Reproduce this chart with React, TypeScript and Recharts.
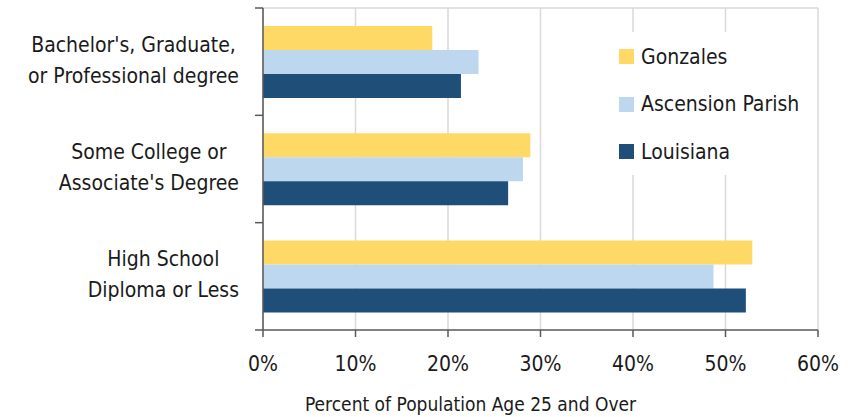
import React from 'react';
import { BarChart, Bar, XAxis, YAxis, CartesianGrid, Legend } from 'recharts';

const categories = [
  "Bachelor's, Graduate,\nor Professional degree",
  "Some College or\nAssociate's Degree",
  'High School\nDiploma or Less',
];
const gonzales = [18.3, 28.9, 52.9];
const ascension = [23.3, 28.1, 48.7];
const louisiana = [21.4, 26.5, 52.2];
const xTicks = [0, 10, 20, 30, 40, 50, 60];

const SERIES = [
  { key: 'gonzales', name: 'Gonzales', color: '#FFD966' },
  { key: 'ascension', name: 'Ascension Parish', color: '#BDD7EE' },
  { key: 'louisiana', name: 'Louisiana', color: '#1F4E79' },
];

const FONT = "'DejaVu Sans Condensed', 'Liberation Sans', sans-serif";
const FONT_SIZE = 21;
const TEXT = '#1a1a1a';
const AXIS = '#595959';
const GRID = '#d9d9d9';

const data = categories.map((c, i) => ({
  category: c,
  gonzales: gonzales[i],
  ascension: ascension[i],
  louisiana: louisiana[i],
}));

// two-line category label (lines centred, block right-aligned) plus tick marks on the band edges
const CategoryTick = (props: any) => {
  const { x, y, payload, index } = props;
  const half = payload.offset || (props.height ? props.height / (2 * categories.length) : 0);
  const lines = String(payload.value).split('\n');
  const isLast = index === categories.length - 1;
  return (
    <g>
      <line x1={x} x2={x + 8} y1={y - half} y2={y - half} stroke={AXIS} strokeWidth={1.5} />
      {isLast && <line x1={x} x2={x + 8} y1={y + half} y2={y + half} stroke={AXIS} strokeWidth={1.5} />}
      <foreignObject x={x - 254} y={y - 41} width={238} height={80}>
        <div
          style={{
            width: 238,
            height: 80,
            display: 'flex',
            justifyContent: 'flex-end',
            alignItems: 'center',
            fontFamily: FONT,
            fontSize: FONT_SIZE,
            lineHeight: '31px',
            color: TEXT,
          }}
        >
          <div style={{ textAlign: 'center', whiteSpace: 'nowrap' }}>
            {lines.map((l, i) => (
              <div key={i}>{l}</div>
            ))}
          </div>
        </div>
      </foreignObject>
    </g>
  );
};

// legend sits on a white box over the grid, in series order
const LegendBox = () => (
  <div style={{ background: '#fff', width: 205, height: 143, paddingTop: 1, boxSizing: 'border-box' }}>
    {SERIES.map((s) => (
      <div
        key={s.key}
        style={{
          display: 'flex',
          alignItems: 'center',
          height: 47.5,
          fontFamily: FONT,
          fontSize: FONT_SIZE,
          color: TEXT,
          whiteSpace: 'nowrap',
        }}
      >
        <span style={{ width: 15, height: 15, background: s.color, marginLeft: 14, marginRight: 7, display: 'inline-block' }} />
        <span>{s.name}</span>
      </div>
    ))}
  </div>
);

export default function App() {
  return (
    <div style={{ position: 'absolute', left: 0, top: 0 }}>
      <style>{'body{margin:0}'}</style>
      <BarChart
        width={857}
        height={417}
        data={data}
        layout="vertical"
        margin={{ top: 8, right: 39, bottom: 5, left: 0 }}
        barCategoryGap="16.7%"
        barGap={0}
      >
        <CartesianGrid
          stroke={GRID}
          strokeWidth={1.5}
          horizontal
          vertical
          horizontalCoordinatesGenerator={({ offset }: any) => [offset.top]}
        />
        <XAxis
          type="number"
          domain={[0, 60]}
          ticks={xTicks}
          tickFormatter={(v: number) => `${v}%`}
          stroke={AXIS}
          strokeWidth={1.5}
          tickSize={7}
          tickMargin={19}
          tick={{ fill: TEXT, fontSize: FONT_SIZE, fontFamily: FONT }}
          height={82}
          label={{
            value: 'Percent of Population Age 25 and Over',
            position: 'insideBottom',
            offset: 1,
            dx: -70,
            fill: TEXT,
            fontSize: 19,
            fontFamily: FONT,
          }}
        />
        <YAxis
          type="category"
          dataKey="category"
          width={263}
          axisLine={{ stroke: AXIS, strokeWidth: 1.5 }}
          tickLine={false}
          tick={<CategoryTick />}
          interval={0}
        />
        <Legend
          layout="vertical"
          verticalAlign="middle"
          align="center"
          wrapperStyle={{ position: 'absolute', left: 605, top: 32, width: 205 }}
          content={<LegendBox />}
        />
        {SERIES.map((s) => (
          <Bar key={s.key} dataKey={s.key} name={s.name} fill={s.color} isAnimationActive={false} />
        ))}
      </BarChart>
    </div>
  );
}
